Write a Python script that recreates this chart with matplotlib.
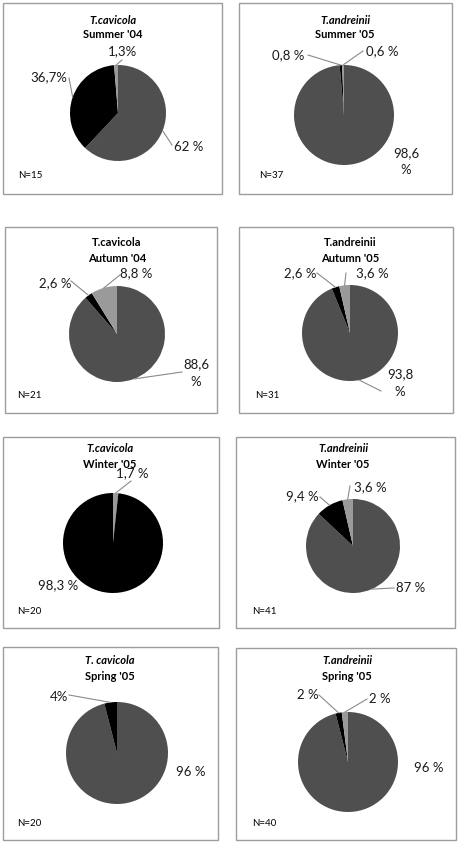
import numpy as np
import matplotlib as mpl
mpl.use('Agg')
import matplotlib.pyplot as plt
from matplotlib.patches import Rectangle

plt.rcParams['font.family'] = ['Lato', 'DejaVu Sans']

W, H = 460, 842

# ---- data (percent of diet, clockwise from 12 o'clock) ----
species = ["T.cavicola", "T.andreinii", "T.cavicola", "T.andreinii",
           "T.cavicola", "T.andreinii", "T. cavicola", "T.andreinii"]
seasons = ["Summer '04", "Summer '05", "Autumn '04", "Autumn '05",
           "Winter '05", "Winter '05", "Spring '05", "Spring '05"]
n_values = [15, 37, 21, 31, 20, 41, 20, 40]

dark_share = [62, 98.6, 88.6, 93.8, 0, 87, 96, 96]
black_share = [36.7, 0.8, 2.6, 2.6, 98.3, 9.4, 4, 2]
light_share = [1.3, 0.6, 8.8, 3.6, 1.7, 3.6, 0, 2]

dark_text = ["62 %", "98,6\n%", "88,6\n%", "93,8\n%", "", "87 %", "96 %", "96 %"]
black_text = ["36,7%", "0,8 %", "2,6 %", "2,6 %", "98,3 %", "9,4 %", "4%", "2 %"]
light_text = ["1,3%", "0,6 %", "8,8 %", "3,6 %", "1,7 %", "3,6 %", "", "2 %"]

# slice order going clockwise
slice_order = [["dark", "black", "light"]] * 4 + [["light", "black"]] + [["dark", "black", "light"]] * 3
title_italic = [True, True, False, False, True, True, True, True]

colors = {"dark": "#4f4f4f", "black": "#000000", "light": "#9a9a9a"}

# ---- layout in image pixels (y down) ----
boxes = [(3, 3, 222, 194), (239, 3, 452, 194),
         (5, 227, 217, 413), (239, 227, 453, 413),
         (3, 437, 219, 628), (236, 437, 455, 628),
         (3, 647, 218, 840), (236, 648, 456, 840)]
pie_geom = [(118, 113, 48), (344, 115, 50),
            (117, 334, 48), (350, 333, 48),
            (113, 543, 50), (353, 546, 47),
            (117, 753, 51), (348, 762, 50)]
title_xy = [(113, 20), (345, 20), (117, 243), (350, 243),
            (110, 449), (343, 449), (110, 661), (347, 661)]
n_xy = [(18, 176), (259, 176), (17, 396), (255, 396),
        (17, 612), (252, 612), (17, 823), (252, 823)]
# label position and leader start per slice kind (None = no leader)
label_pos = [
    {"dark": ((189, 147), (172, 145)), "black": ((49, 77), (69, 78)), "light": ((122, 51), (122, 60))},
    {"dark": ((406, 162), None), "black": ((288, 55), (308, 55)), "light": ((382, 51), (363, 51))},
    {"dark": ((196, 373), (182, 372)), "black": ((55, 283), (71, 281)), "light": ((136, 273), (120, 275))},
    {"dark": ((400, 383), (381, 391)), "black": ((300, 273), (317, 273)), "light": ((372, 273), (346, 273))},
    {"black": ((58, 585), None), "light": ((132, 473), (131, 481))},
    {"dark": ((411, 588), (394, 588)), "black": ((302, 496), (320, 497)), "light": ((370, 487), (350, 486))},
    {"dark": ((191, 772), None), "black": ((59, 697), (69, 695))},
    {"dark": ((429, 768), None), "black": ((308, 695), (319, 695)), "light": ((380, 699), (367, 699))},
]

fig = plt.figure(figsize=(W / 100, H / 100), dpi=100)
fig.patch.set_facecolor('white')
ax = fig.add_axes([0, 0, 1, 1])


def Y(y):
    return H - y


for i in range(8):
    x0, y0, x1, y1 = boxes[i]
    ax.add_patch(Rectangle((x0, Y(y1)), x1 - x0, y1 - y0, facecolor='white',
                           edgecolor='#9d9d9d', lw=1.0, zorder=0))

    shares = {"dark": dark_share[i], "black": black_share[i], "light": light_share[i]}
    texts = {"dark": dark_text[i], "black": black_text[i], "light": light_text[i]}
    kinds = [k for k in slice_order[i] if shares[k] > 0]
    vals = [shares[k] for k in kinds]
    cx, cy, r = pie_geom[i]
    ax.pie(vals, colors=[colors[k] for k in kinds], startangle=90, counterclock=False,
           center=(cx, Y(cy)), radius=r, wedgeprops=dict(linewidth=0), frame=True)

    # labels and leader lines
    total = float(sum(vals))
    cum = 0.0
    for k, v in zip(kinds, vals):
        mid = (cum + v / 2) / total
        cum += v
        if k not in label_pos[i] or texts[k] == "":
            continue
        (tx, ty), start = label_pos[i][k]
        ax.text(tx, Y(ty), texts[k], ha='center', va='center', fontsize=9.5,
                color='#1a1a1a', linespacing=1.5)
        if start is not None:
            ang = np.deg2rad(90 - 360 * mid)
            ex, ey = cx + r * np.cos(ang), Y(cy) + r * np.sin(ang)
            ax.plot([start[0], ex], [Y(start[1]), ey], color='#8a8a8a', lw=0.8)

    style = 'italic' if title_italic[i] else 'normal'
    tx, ty = title_xy[i]
    ax.text(tx, Y(ty), species[i], ha='center', va='center', fontsize=8,
            fontweight='bold', fontstyle=style)
    ax.text(tx, Y(ty + 15), seasons[i], ha='center', va='center', fontsize=8,
            fontweight='bold')
    nx, ny = n_xy[i]
    ax.text(nx, Y(ny), "N={}".format(n_values[i]), ha='left', va='center', fontsize=7)

ax.set_xlim(0, W)
ax.set_ylim(0, H)
ax.set_aspect('auto')
ax.axis('off')

plt.savefig("out.png", dpi=100, facecolor='white')
